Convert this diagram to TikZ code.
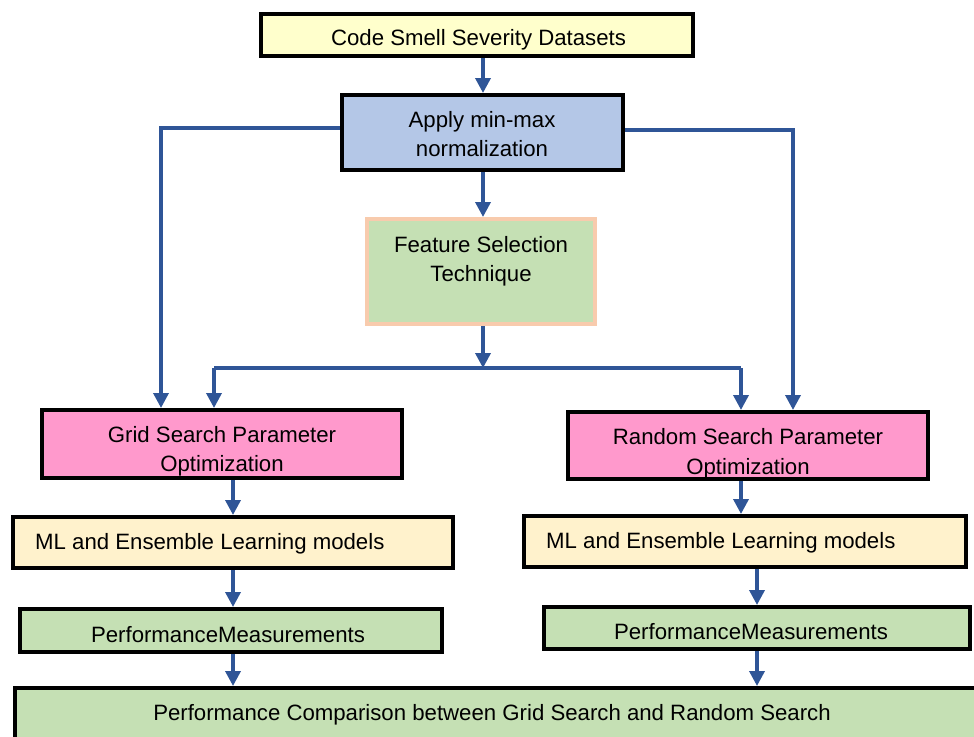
\documentclass[tikz,border=0pt]{standalone}
\usepackage{fontspec}
\setmainfont{Liberation Sans}
\usetikzlibrary{arrows.meta,calc}

\definecolor{dataYellow}{HTML}{FFFFCC}
\definecolor{normBlue}{HTML}{B4C7E7}
\definecolor{stepGreen}{HTML}{C5E0B4}
\definecolor{peachLine}{HTML}{F8CBAD}
\definecolor{optPink}{HTML}{FF99CC}
\definecolor{modelCream}{HTML}{FFF2CC}
\definecolor{flowBlue}{HTML}{2F5597}

\tikzset{
  block/.style={rectangle, draw=black, line width=4pt, inner sep=0pt},
  txt/.style={inner sep=0pt, align=center, font=\fontsize{22.2}{29.5}\selectfont},
  flow/.style={draw=flowBlue, line width=3.5pt},
  arr/.style={flow, -{Triangle[length=15pt,width=15pt]}}
}

\begin{document}
\begin{tikzpicture}[x=1pt,y=-1pt]
\clip (0,0) rectangle (974,736);

% boxes
\node[block, fill=dataYellow, minimum width=432pt, minimum height=42pt] (data) at (477,35) {};
\node[block, fill=normBlue, minimum width=281pt, minimum height=75pt] (norm) at (482.5,132.5) {};
\node[block, draw=peachLine, fill=stepGreen, minimum width=228pt, minimum height=105pt] (fs) at (481,271.5) {};
\node[block, fill=optPink, minimum width=360pt, minimum height=68pt] (grid) at (222,444) {};
\node[block, fill=optPink, minimum width=360pt, minimum height=67pt] (rand) at (748,445.5) {};
\node[block, fill=modelCream, minimum width=440pt, minimum height=51pt] (mlL) at (233,542.5) {};
\node[block, fill=modelCream, minimum width=442pt, minimum height=51pt] (mlR) at (745,541.5) {};
\node[block, fill=stepGreen, minimum width=422pt, minimum height=43pt] (perfL) at (231,630.5) {};
\node[block, fill=stepGreen, minimum width=426pt, minimum height=42pt] (perfR) at (757,628) {};
\node[block, fill=stepGreen, minimum width=983pt, minimum height=70pt] (cmp) at (506.5,723) {};

% labels
\node[txt] (data-t) at (478.5,40) {Code Smell Severity Datasets};
\node[txt] (norm-t) at (482,134) {Apply min-max\\normalization};
\node[txt] (fs-t) at (481,261.5) {Feature Selection\\Technique};
\node[txt] (grid-t) at (222,451.5) {Grid Search Parameter\\Optimization};
\node[txt] (rand-t) at (748,454) {Random Search Parameter\\Optimization};
\node[txt, anchor=west] (mlL-t) at (35,544) {ML and Ensemble Learning models};
\node[txt, anchor=west] (mlR-t) at (546,543) {ML and Ensemble Learning models};
\node[txt] (perfL-t) at (228,635) {PerformanceMeasurements};
\node[txt] (perfR-t) at (751,632) {PerformanceMeasurements};
\node[txt] (cmp-t) at (492,715) {Performance Comparison between Grid Search and Random Search};

% main spine
\draw[arr] (data.south -| 483,0) -- (norm.north -| 483,0);
\draw[arr] (norm.south -| 483,0) -- (fs.north -| 483,0);

% bypass branches around feature selection
\draw[arr] ([yshift=4.5pt]norm.west) -| ([xshift=-61pt]grid.north);
\draw[arr] ([yshift=2.5pt]norm.east) -| ([xshift=45pt]rand.north);

% split after feature selection
\coordinate (split) at (483,368);
\draw[arr] (fs.south -| split) -- (split);
\draw[flow] ([xshift=-8pt]grid.north |- split) -- ([xshift=-7pt]rand.north |- split);
\draw[arr] ([xshift=-8pt]grid.north |- split) -- ([xshift=-8pt]grid.north);
\draw[arr] ([xshift=-7pt]rand.north |- split) -- ([xshift=-7pt]rand.north);

% left column
\draw[arr] (grid.south -| mlL.north) -- (mlL.north);
\draw[arr] (mlL.south) -- (mlL.south |- perfL.north);
\draw[arr] (perfL.south -| mlL.south) -- (cmp.north -| mlL.south);

% right column
\draw[arr] ([xshift=-7pt]rand.south) -- ([xshift=-7pt]rand.south |- mlR.north);
\draw[arr] (mlR.south -| perfR.north) -- (perfR.north);
\draw[arr] (perfR.south) -- (cmp.north -| perfR.south);
\end{tikzpicture}
\end{document}
